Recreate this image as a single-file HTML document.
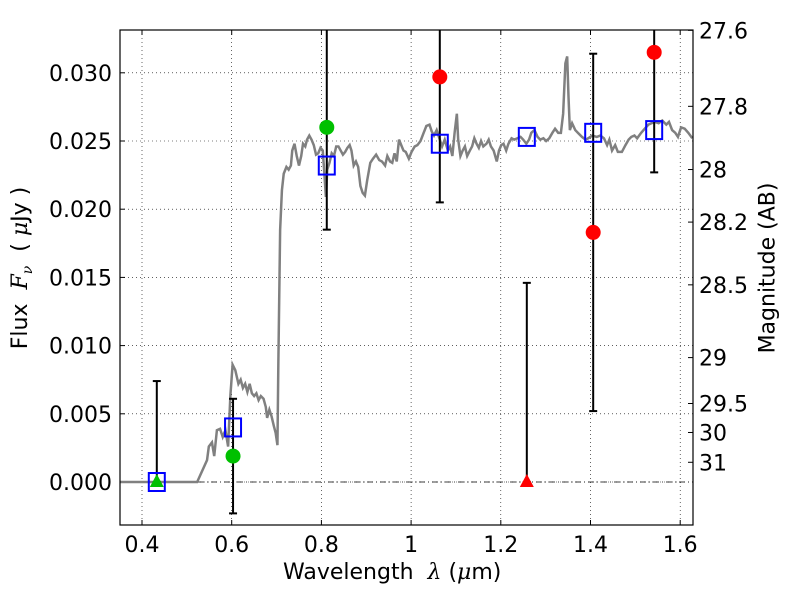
<!DOCTYPE html>
<html><head><meta charset="utf-8"><style>
body{margin:0;background:#fff;}
svg{display:block;font-family:"DejaVu Sans","Liberation Sans",sans-serif;}
</style></head><body>
<svg id="chart" width="800" height="600"></svg>
<script>
const specLam=[0.351,0.523,0.545,0.549,0.556,0.561,0.567,0.574,0.580,0.586,0.592,0.597,0.602,0.608,0.615,0.620,0.625,0.630,0.635,0.640,0.645,0.650,0.655,0.660,0.665,0.671,0.676,0.679,0.684,0.689,0.694,0.698,0.702,0.704,0.706,0.708,0.712,0.716,0.722,0.727,0.732,0.735,0.740,0.745,0.750,0.755,0.759,0.764,0.768,0.773,0.778,0.783,0.788,0.793,0.798,0.803,0.806,0.810,0.813,0.818,0.823,0.828,0.833,0.838,0.843,0.848,0.853,0.858,0.863,0.867,0.872,0.877,0.882,0.887,0.892,0.897,0.902,0.909,0.915,0.922,0.929,0.935,0.942,0.947,0.953,0.958,0.963,0.968,0.973,0.978,0.983,0.988,0.995,1.001,1.008,1.014,1.021,1.028,1.034,1.041,1.046,1.051,1.057,1.062,1.069,1.075,1.082,1.087,1.092,1.097,1.102,1.105,1.110,1.115,1.120,1.125,1.131,1.136,1.141,1.146,1.151,1.156,1.161,1.168,1.173,1.178,1.184,1.191,1.196,1.201,1.206,1.212,1.217,1.224,1.230,1.237,1.244,1.250,1.257,1.263,1.268,1.275,1.282,1.288,1.295,1.301,1.308,1.315,1.321,1.328,1.334,1.339,1.344,1.348,1.351,1.354,1.359,1.366,1.372,1.381,1.389,1.395,1.404,1.414,1.422,1.430,1.437,1.442,1.448,1.455,1.461,1.470,1.478,1.485,1.491,1.498,1.504,1.513,1.521,1.529,1.536,1.544,1.552,1.560,1.569,1.575,1.582,1.589,1.595,1.602,1.610,1.618,1.627];
const specFlux=[0,0,0.0016,0.0026,0.0029,0.0019,0.0038,0.0039,0.0033,0.0038,0.0026,0.0063,0.0086,0.0082,0.0072,0.0075,0.0069,0.0072,0.0066,0.0072,0.0065,0.0063,0.0065,0.0060,0.0063,0.0061,0.0055,0.0047,0.0053,0.0048,0.0041,0.0036,0.0027,0.0087,0.0136,0.0185,0.0214,0.0226,0.0231,0.0229,0.0232,0.0243,0.0248,0.0239,0.0232,0.0239,0.0248,0.0246,0.0251,0.0254,0.0251,0.0247,0.0240,0.0241,0.0245,0.0243,0.0229,0.0209,0.0229,0.0234,0.0241,0.0239,0.0246,0.0246,0.0243,0.0240,0.0242,0.0245,0.0247,0.0243,0.0232,0.0235,0.0231,0.0217,0.0212,0.0210,0.0221,0.0234,0.0237,0.0240,0.0236,0.0235,0.0232,0.0239,0.0235,0.0234,0.0241,0.0235,0.0251,0.0247,0.0243,0.0242,0.0237,0.0242,0.0246,0.0247,0.0250,0.0256,0.0261,0.0262,0.0257,0.0254,0.0258,0.0253,0.0246,0.0251,0.0243,0.0246,0.0239,0.0256,0.0270,0.0251,0.0239,0.0243,0.0246,0.0239,0.0243,0.0246,0.0252,0.0248,0.0245,0.0250,0.0246,0.0248,0.0251,0.0246,0.0243,0.0235,0.0243,0.0247,0.0248,0.0243,0.0248,0.0252,0.0251,0.0252,0.0253,0.0251,0.0248,0.0251,0.0256,0.0258,0.0253,0.0251,0.0252,0.0250,0.0252,0.0256,0.0259,0.0256,0.0256,0.0270,0.0307,0.0312,0.0282,0.0258,0.0263,0.0258,0.0256,0.0253,0.0251,0.0252,0.0254,0.0253,0.0254,0.0252,0.0247,0.0251,0.0243,0.0247,0.0242,0.0242,0.0247,0.0251,0.0253,0.0254,0.0252,0.0256,0.0259,0.0262,0.0263,0.0264,0.0263,0.0265,0.0262,0.0264,0.0258,0.0256,0.0253,0.0260,0.0259,0.0256,0.0252];
const modelLam=[0.433,0.603,0.812,1.064,1.258,1.406,1.542];
const modelFlux=[0,0.0040,0.0232,0.0248,0.0253,0.0256,0.0258];
const greenLam=[0.603,0.812];
const greenFlux=[0.0019,0.0260];
const greenErr=[0.0042,0.0075];
const greenLimLam=[0.433];
const greenLimTop=[0.0074];
const redLam=[1.064,1.406,1.542];
const redFlux=[0.0297,0.0183,0.0315];
const redErr=[0.0092,0.0131,0.0088];
const redLimLam=[1.258];
const redLimTop=[0.0146];
const xTicks=[0.4,0.6,0.8,1.0,1.2,1.4,1.6];
const xTickLabels=["0.4","0.6","0.8","1","1.2","1.4","1.6"];
const yTicks=[0,0.005,0.010,0.015,0.020,0.025,0.030];
const yTickLabels=["0.000","0.005","0.010","0.015","0.020","0.025","0.030"];
const magTicks=[27.6,27.8,28,28.2,28.5,29,29.5,30,31];
const magLabels=["27.6","27.8","28","28.2","28.5","29","29.5","30","31"];

const L=120,R=693,T=30,B=525;
const X=l=>142+(l-0.4)*448.5;
const Y=f=>482-f*13640;
const svg=document.getElementById('chart');
const NS='http://www.w3.org/2000/svg';
function mk(tag,attrs,parent){const e=document.createElementNS(NS,tag);for(const k in attrs)e.setAttribute(k,attrs[k]);(parent||svg).appendChild(e);return e;}

const clip=mk('clipPath',{id:'cp'});mk('rect',{x:L,y:T,width:R-L,height:B-T},clip);
xTicks.forEach((t,i)=>{
 const g=mk('line',{x1:X(t),x2:X(t),y1:T,y2:B,stroke:'#000','stroke-width':0.6,'stroke-dasharray':'1,3'});
 
 mk('line',{x1:X(t),x2:X(t),y1:B,y2:B-5,stroke:'#000'});mk('line',{x1:X(t),x2:X(t),y1:T,y2:T+5,stroke:'#000'});
 const tx=mk('text',{x:X(t),y:B+27,'font-size':22,'text-anchor':'middle'});tx.textContent=xTickLabels[i];
 
});
yTicks.forEach((t,i)=>{
 const g=mk('line',{x1:L,x2:R,y1:Y(t),y2:Y(t),stroke:'#000','stroke-width':0.6,'stroke-dasharray':'1,3'});
 
 mk('line',{x1:L,x2:L+5,y1:Y(t),y2:Y(t),stroke:'#000'});
 const tx=mk('text',{x:L-8,y:Y(t)+8,'font-size':22,'text-anchor':'end'});tx.textContent=yTickLabels[i];
 
});
magTicks.forEach((m,i)=>{
 const y=Y(Math.pow(10,(23.9-m)/2.5));
 mk('line',{x1:R-5,x2:R,y1:y,y2:y,stroke:'#000'});
 const tx=mk('text',{x:R+6,y:y+8,'font-size':22});tx.textContent=magLabels[i];
 
});
const g=mk('g',{'clip-path':'url(#cp)'});
const zl=mk('line',{x1:L,x2:R,y1:Y(0),y2:Y(0),stroke:'#000','stroke-width':0.8,'stroke-dasharray':'6,3,1,3'},g);

const sp=mk('polyline',{points:specLam.map((l,i)=>X(l)+','+Y(specFlux[i])).join(' '),fill:'none',stroke:'#808080','stroke-width':2.5},g);

function ebar(x,y1,y2){mk('line',{x1:x,x2:x,y1:y1,y2:y2,stroke:'#000','stroke-width':2},g);[y1,y2].forEach(y=>mk('line',{x1:x-4,x2:x+4,y1:y,y2:y,stroke:'#000','stroke-width':2},g));}
greenLimLam.forEach((l,i)=>ebar(X(l),Y(0),Y(greenLimTop[i])));
redLimLam.forEach((l,i)=>ebar(X(l),Y(0),Y(redLimTop[i])));
greenLam.forEach((l,i)=>ebar(X(l),Y(greenFlux[i]-greenErr[i]),Y(greenFlux[i]+greenErr[i])));
redLam.forEach((l,i)=>ebar(X(l),Y(redFlux[i]-redErr[i]),Y(redFlux[i]+redErr[i])));
modelLam.forEach((l,i)=>{
 const r=mk('rect',{x:X(l)-8,y:Y(modelFlux[i])-9,width:16,height:18,fill:'none',stroke:'#0000ff','stroke-width':2},g);
 
});
greenLam.forEach((l,i)=>{const c=mk('circle',{cx:X(l),cy:Y(greenFlux[i]),r:7.5,fill:'#00c000'},g);
 });
redLam.forEach((l,i)=>{const c=mk('circle',{cx:X(l),cy:Y(redFlux[i]),r:7.5,fill:'#ff0000'},g);
 });
function tri(l,col,name){const x=X(l),y=Y(0);const p=mk('polygon',{points:`${x},${y-8} ${x-7},${y+5} ${x+7},${y+5}`,fill:col},g);
 }
greenLimLam.forEach(l=>tri(l,'#00c000','green-upper-limit'));
redLimLam.forEach(l=>tri(l,'#ff0000','red-upper-limit'));
const fr=mk('rect',{x:L,y:T,width:R-L,height:B-T,fill:'none',stroke:'#000','stroke-width':1.2});

</script>
<div style="position:absolute;left:0;top:0;width:800px;height:600px;pointer-events:none;font-family:'DejaVu Sans','Liberation Sans',sans-serif;">
 <div style="position:absolute;left:283px;top:560px;font-size:22px;white-space:nowrap;">Wavelength&nbsp; <i style="font-family:'DejaVu Serif',serif">λ</i> (<i style="font-family:'DejaVu Serif',serif">μ</i>m)</div>
 <div style="position:absolute;left:22px;top:268px;font-size:22px;white-space:nowrap;transform:translate(-50%,-50%) rotate(-90deg);">Flux&nbsp; <i style="font-family:'DejaVu Serif',serif">F<sub style="font-size:14px">ν</sub></i>&nbsp; ( <i style="font-family:'DejaVu Serif',serif">μ</i>Jy )</div>
 <div style="position:absolute;left:768px;top:268px;font-size:22px;white-space:nowrap;transform:translate(-50%,-50%) rotate(-90deg);">Magnitude (AB)</div>
</div>
</body></html>
